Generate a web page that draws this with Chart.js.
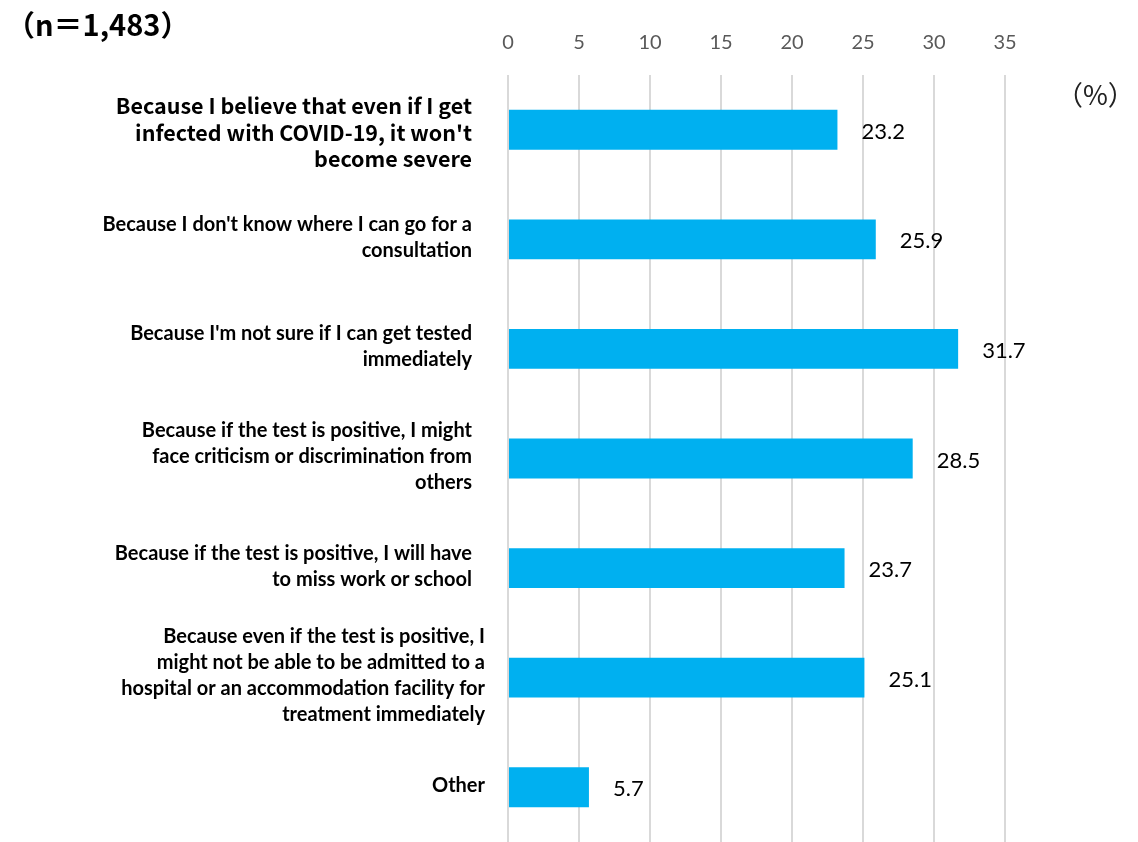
<!DOCTYPE html>
<html>
<head>
<meta charset="utf-8">
<script src="https://cdn.jsdelivr.net/npm/chart.js@4.4.1/dist/chart.umd.min.js"></script>
<style>
  html, body { margin: 0; background: #fff; }
  #wrap { width: 1138px; height: 842px; }
</style>
</head>
<body>
<div id="wrap"><canvas id="chart" width="1138" height="842"></canvas></div>
<script>
// reasons for not getting tested, one entry per bar (lines as wrapped in the chart)
const reasons = [
  ['Because I believe that even if I get', 'infected with COVID-19, it won\'t', 'become severe'],
  ['Because I don\'t know where I can go for a', 'consultation'],
  ['Because I\'m not sure if I can get tested', 'immediately'],
  ['Because if the test is positive, I might', 'face criticism or discrimination from', 'others'],
  ['Because if the test is positive, I will have', 'to miss work or school'],
  ['Because even if the test is positive, I', 'might not be able to be admitted to a', 'hospital or an accommodation facility for', 'treatment immediately'],
  ['Other']
];
const percents = [23.2, 25.9, 31.7, 28.5, 23.7, 25.1, 5.7];
const xTicks = [0, 5, 10, 15, 20, 25, 30, 35];
const sampleNote = '（n＝1,483）';
const unitNote = '（%）';

const CJK = '"Noto Sans CJK JP", "Noto Sans", sans-serif';
const BODY = 'Lato, "Open Sans", sans-serif';

// category labels, value labels and the two notes
const annotate = {
  id: 'annotate',
  afterDatasetsDraw(chart) {
    const { ctx, chartArea, scales } = chart;
    const bars = chart.getDatasetMeta(0).data;
    ctx.save();

    // values at the bar ends
    ctx.fillStyle = '#000';
    ctx.font = `22px ${BODY}`;
    ctx.textAlign = 'left';
    ctx.textBaseline = 'middle';
    bars.forEach((bar, i) => {
      ctx.fillText(percents[i].toFixed(1), bar.x + 24, bar.y + 2);
    });

    // wrapped category labels, right aligned left of the plot
    ctx.textAlign = 'right';
    reasons.forEach((lines, i) => {
      const y = scales.y.getPixelForValue(i);
      const right = chartArea.left - (i >= 5 ? 23 : 36);
      ctx.font = i === 0 ? `bold 21.5px ${CJK}` : `bold 20px ${BODY}`;
      const lh = i === 0 ? 26.5 : 26;
      const top = y - (lines.length - 1) * lh / 2 + (i === 0 ? 3 : -2);
      lines.forEach((t, k) => ctx.fillText(t, right, top + k * lh));
    });

    ctx.textAlign = 'left';
    ctx.font = `bold 29px ${CJK}`;
    ctx.fillText(sampleNote, 6, 25);
    ctx.font = `27px ${CJK}`;
    ctx.fillStyle = '#222';
    ctx.fillText(unitNote, 1056, 95);
    ctx.restore();
  }
};

new Chart(document.getElementById('chart'), {
  type: 'bar',
  data: {
    labels: reasons,
    datasets: [{
      data: percents,
      backgroundColor: '#00B0F0',
      barPercentage: 0.364,
      categoryPercentage: 1
    }]
  },
  options: {
    indexAxis: 'y',
    responsive: false,
    animation: false,
    layout: { padding: { left: 508, right: 133, top: 11, bottom: 0 } },
    plugins: { legend: { display: false }, tooltip: { enabled: false } },
    scales: {
      x: {
        position: 'top',
        min: 0,
        max: 35,
        afterBuildTicks: s => { s.ticks = xTicks.map(v => ({ value: v })); },
        ticks: { color: '#595959', font: { size: 20, family: BODY }, padding: 20 },
        grid: { color: '#D9D9D9', lineWidth: 2, drawTicks: false },
        border: { display: false }
      },
      y: { display: false }
    }
  },
  plugins: [annotate]
});
</script>
</body>
</html>
